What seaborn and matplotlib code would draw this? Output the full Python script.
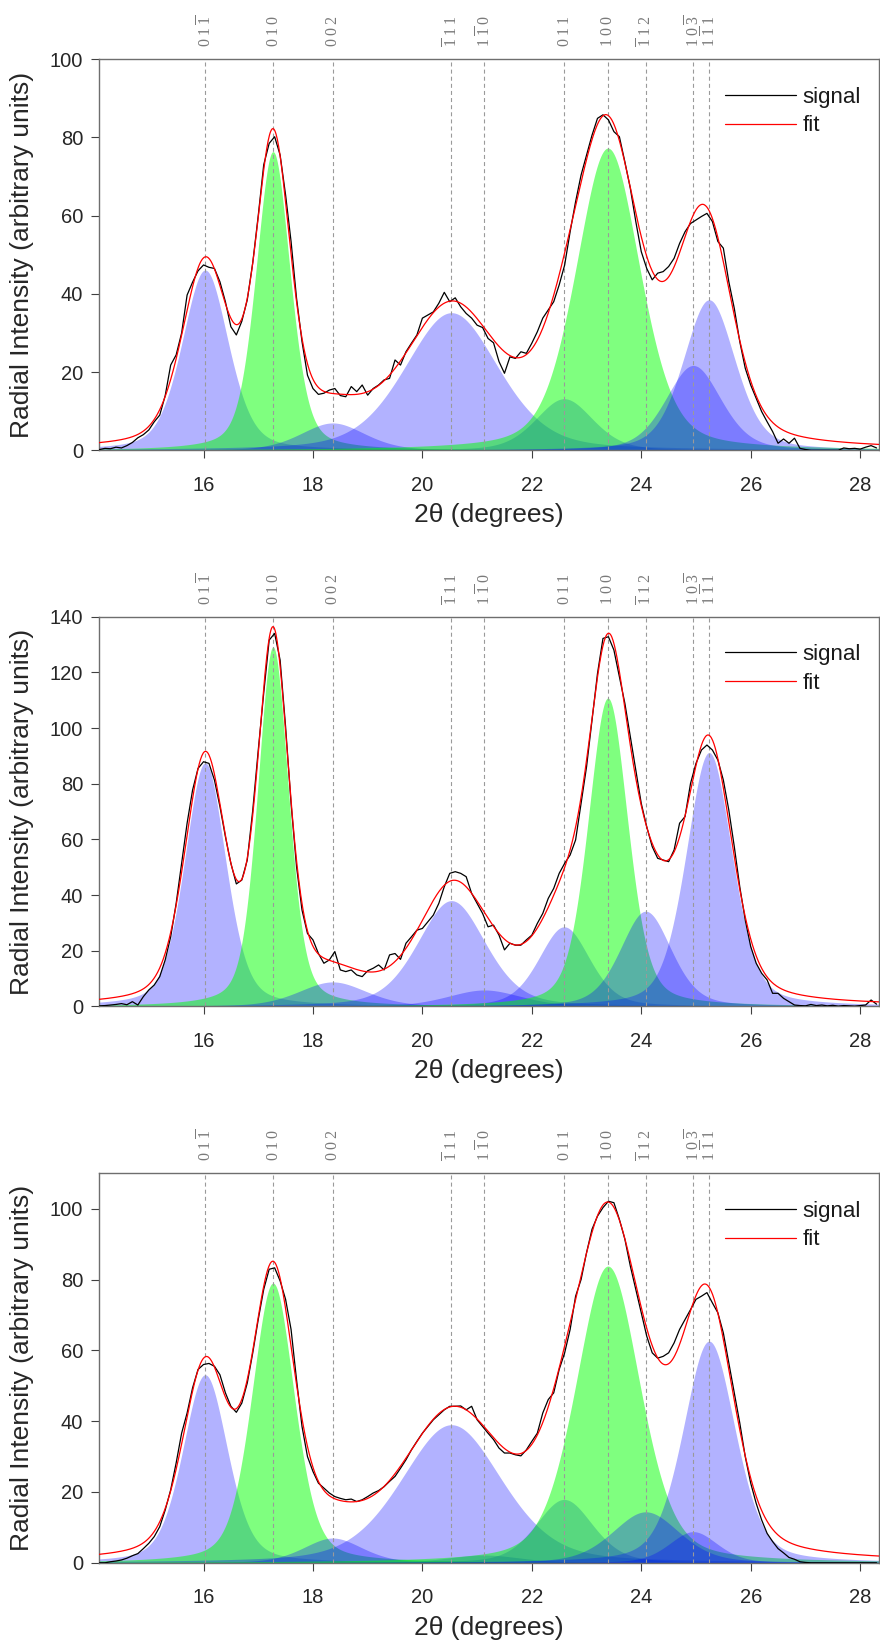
import numpy as np
import pandas as pd
import matplotlib
matplotlib.use("Agg")
import matplotlib.pyplot as plt
import seaborn as sns

sns.set_theme(style="white")
plt.rcParams["font.family"] = ["Liberation Sans", "DejaVu Sans"]
plt.rcParams["mathtext.fontset"] = "custom"
plt.rcParams["mathtext.rm"] = "Liberation Serif"
plt.rcParams["mathtext.it"] = "Liberation Serif:italic"

# ---------------- data ----------------
two_theta = np.round(np.arange(14.1, 28.3001, 0.1), 1)

peak_pos = [16.03, 17.27, 18.36, 20.53, 21.13, 22.59, 23.39, 24.08, 24.95, 25.24]
peak_labels = [r"$\mathrm{0\;1\;\overline{1}}$", r"$\mathrm{0\;1\;0}$", r"$\mathrm{0\;0\;2}$",
               r"$\mathrm{\overline{1}\;1\;1}$", r"$\mathrm{1\;\overline{1}\;0}$", r"$\mathrm{0\;1\;1}$",
               r"$\mathrm{1\;0\;0}$", r"$\mathrm{\overline{1}\;1\;2}$", r"$\mathrm{1\;0\;\overline{3}}$",
               r"$\mathrm{1\;\overline{1}\;1}$"]
peak_phase = ["b", "g", "b", "b", "b", "b", "g", "b", "b", "b"]

heights1 = [46.1, 76.4, 7.0, 35.2, 0.0, 13.2, 77.3, 0.0, 21.7, 38.5]
widths1 = [1.00, 0.74, 1.40, 2.03, 1.20, 1.24, 1.39, 1.00, 1.20, 1.12]
heights2 = [87.5, 129.2, 8.8, 38.0, 5.9, 28.6, 110.8, 34.2, 0.0, 91.2]
widths2 = [0.89, 0.67, 1.48, 1.47, 1.60, 1.10, 0.86, 1.10, 1.00, 1.00]
heights3 = [53.1, 79.0, 7.0, 39.0, 2.2, 17.9, 83.8, 14.4, 8.8, 62.6]
widths3 = [0.97, 0.92, 1.28, 2.18, 1.60, 1.23, 1.39, 1.45, 1.05, 1.13]
eta = 0.35

signal1 = [0.2, 0.5, 0.4, 0.8, 0.6, 1.2, 2.0, 3.2, 4.0, 5.2,
           7.3, 9.0, 14.0, 21.8, 24.4, 30.0, 39.7, 43.0, 45.9, 47.4,
           46.8, 46.5, 43.1, 38.0, 31.6, 29.5, 33.0, 38.5, 48.0, 60.0,
           73.0, 78.5, 80.2, 75.5, 65.3, 53.4, 38.9, 27.8, 19.2, 15.8,
           14.3, 14.6, 15.4, 15.8, 14.0, 13.7, 16.3, 15.0, 16.7, 14.1,
           15.8, 16.7, 18.0, 18.4, 23.1, 21.8, 25.2, 27.4, 29.5, 33.8,
           34.6, 35.4, 37.6, 40.4, 38.0, 39.0, 36.7, 35.0, 33.8, 32.0,
           31.4, 28.6, 27.5, 22.7, 19.7, 23.9, 23.5, 25.2, 24.8, 27.4,
           30.3, 33.8, 35.9, 38.0, 42.3, 47.4, 55.9, 63.6, 70.4, 75.5,
           80.6, 84.9, 85.8, 84.5, 81.5, 80.2, 73.8, 67.0, 58.5, 50.8,
           46.5, 43.6, 45.3, 45.7, 47.0, 49.1, 52.9, 55.9, 58.0, 58.9,
           59.8, 60.6, 58.5, 53.4, 51.7, 43.1, 36.3, 27.8, 21.0, 16.7,
           13.3, 9.9, 7.3, 4.8, 1.8, 2.9, 1.8, 3.1, 0.5, 0.2,
           0.0, 0.0, 0.0, 0.0, 0.0, 0.0, 0.6, 0.4, 0.5, 0.3,
           0.8, 1.2, 0.6]
signal2 = [0.2, 0.3, 0.5, 0.7, 1.0, 0.6, 1.7, 0.5, 3.5, 5.9,
           7.7, 10.7, 16.7, 25.0, 37.0, 51.4, 65.8, 77.7, 85.5, 87.9,
           87.3, 81.3, 71.8, 61.0, 51.4, 44.0, 45.4, 52.6, 70.5, 92.0,
           112.5, 131.6, 134.0, 124.4, 100.5, 72.9, 50.2, 34.6, 26.2, 23.9,
           19.0, 15.5, 16.7, 19.7, 13.1, 12.5, 13.1, 11.3, 10.7, 12.8,
           13.7, 14.9, 13.1, 18.5, 19.0, 16.9, 22.7, 25.0, 27.4, 28.0,
           30.4, 32.8, 37.0, 43.0, 47.8, 48.4, 47.8, 46.6, 40.6, 37.0,
           33.4, 28.6, 29.2, 25.6, 20.3, 22.7, 22.0, 22.0, 23.9, 25.6,
           29.8, 33.4, 38.8, 42.4, 47.8, 51.4, 54.4, 59.8, 72.9, 86.1,
           102.9, 119.6, 132.2, 132.8, 128.0, 118.4, 108.9, 96.9, 84.9, 72.9,
           64.5, 57.4, 53.2, 52.6, 52.0, 56.2, 65.8, 68.2, 80.1, 87.3,
           92.1, 93.9, 92.1, 88.5, 81.3, 70.5, 57.4, 43.0, 31.0, 21.5,
           15.5, 11.9, 9.5, 4.7, 4.7, 2.9, 1.7, 0.5, 0.3, 0.2,
           0.7, 0.3, 0.5, 0.2, 0.4, 0.1, 0.3, 0.2, 0.1, 0.3,
           0.5, 2.3, 0.8]
signal3 = [0.0, 0.0, 0.3, 0.5, 0.8, 1.3, 2.0, 2.6, 4.0, 5.5,
           7.4, 10.2, 14.9, 20.6, 28.2, 36.6, 42.3, 49.4, 54.6, 56.0,
           56.3, 55.5, 53.1, 48.0, 44.2, 42.5, 45.1, 50.8, 59.3, 68.7,
           77.2, 82.9, 83.3, 79.6, 74.4, 65.9, 51.7, 38.5, 30.0, 25.8,
           22.5, 21.1, 19.7, 18.7, 18.2, 17.8, 18.0, 17.3, 17.8, 18.7,
           19.7, 20.4, 21.5, 23.0, 24.4, 26.7, 29.1, 31.9, 34.3, 36.6,
           38.5, 40.4, 41.8, 43.2, 44.2, 44.2, 44.3, 43.2, 44.2, 40.4,
           38.5, 36.6, 34.8, 32.4, 31.0, 31.0, 30.5, 30.2, 31.9, 34.3,
           36.6, 42.3, 46.1, 48.0, 54.6, 59.3, 65.9, 75.3, 80.0, 87.6,
           94.2, 97.9, 100.3, 102.1, 101.7, 97.0, 91.4, 83.8, 77.2, 70.6,
           64.0, 59.3, 57.8, 58.3, 59.3, 62.1, 65.9, 68.7, 71.5, 74.4,
           75.3, 76.3, 73.4, 70.6, 64.9, 56.4, 48.0, 39.5, 30.0, 22.5,
           16.8, 12.1, 8.3, 6.0, 4.0, 2.8, 1.5, 1.0, 0.3, 0.1,
           0.0, 0.0, 0.0, 0.0, 0.0, 0.0, 0.0, 0.0, 0.0, 0.0,
           0.0, 0.0, 0.0]

y_limits = [100, 140, 110]
y_ticks = [[0, 20, 40, 60, 80, 100], [0, 20, 40, 60, 80, 100, 120, 140], [0, 20, 40, 60, 80, 100]]
x_ticks = [16, 18, 20, 22, 24, 26, 28]

panels = [(heights1, widths1, signal1), (heights2, widths2, signal2), (heights3, widths3, signal3)]

# ---------------- drawing ----------------
W, H = 880, 1645
fig = plt.figure(figsize=(W / 100, H / 100), dpi=100)

xgrid = np.linspace(14.09, 28.35, 1200)

def pvoigt(x, c, h, w):
    d = (x - c) / w
    return h * (eta / (1.0 + 4 * d * d) + (1 - eta) * np.exp(-4 * np.log(2) * d * d))

axes_px = [(99, 59.3, 450.3), (99, 616.7, 1006.4), (99, 1173.3, 1562.8)]
fill_col = {"b": ("#0000ff", 0.30), "g": ("#00ff00", 0.50)}

for i, ((hts, wds, sig), (lpx, top, bot)) in enumerate(zip(panels, axes_px)):
    ax = fig.add_axes([lpx / W, 1 - bot / H, 780.3 / W, (bot - top) / H])
    total = np.zeros_like(xgrid)
    for c, h, w, ph in zip(peak_pos, hts, wds, peak_phase):
        comp = pvoigt(xgrid, c, h, w)
        total += comp
        if h > 0:
            col, a = fill_col[ph]
            ax.fill_between(xgrid, 0, comp, color=col, alpha=a, linewidth=0, zorder=1)
    for c, lab in zip(peak_pos, peak_labels):
        ax.axvline(c, color="#9a9a9a", lw=0.8, ls=(0, (3.6, 2.8)), zorder=2)
        ax.annotate(lab, xy=(c, 1.0), xycoords=("data", "axes fraction"),
                    xytext=(0, 8.5), textcoords="offset points", rotation=90,
                    ha="center", va="bottom", color="#7a7a7a", fontsize=11.5)
    df_sig = pd.DataFrame({"x": two_theta, "y": sig})
    df_fit = pd.DataFrame({"x": xgrid, "y": total})
    sns.lineplot(data=df_sig, x="x", y="y", ax=ax, color="black", lw=0.9, label="signal",
                 estimator=None, sort=False, zorder=3)
    sns.lineplot(data=df_fit, x="x", y="y", ax=ax, color="red", lw=0.9, label="fit",
                 estimator=None, sort=False, zorder=4)
    ax.set_xlim(14.09, 28.35)
    ax.set_ylim(0, y_limits[i])
    ax.set_xticks(x_ticks)
    ax.set_yticks(y_ticks[i])
    ax.set_xlabel("")
    ax.set_ylabel("")
    ax.tick_params(axis="both", direction="out", length=5.5, width=0.8, color="#404040",
                   labelcolor="#262626", labelsize=14.5, bottom=True, left=True, top=False, right=False)
    ax.tick_params(axis="x", pad=13)
    ax.tick_params(axis="y", pad=6)
    for s in ax.spines.values():
        s.set_color("#6e6e6e")
        s.set_linewidth(1.0)
        s.set_visible(True)
    ax.grid(False)
    leg = ax.legend(loc="upper left", bbox_to_anchor=(0.802, 0.93), frameon=False, fontsize=16,
                    handlelength=3.2, handletextpad=0.3, labelspacing=0.35, borderpad=0, borderaxespad=0)
    for t in leg.get_texts():
        t.set_color("#1a1a1a")
    fig.text(22 / W, 1 - (top + bot) / 2 / H, "Radial Intensity (arbitrary units)", rotation=90,
             ha="center", va="center", fontsize=19, color="#262626")
    fig.text((lpx + 780.3 / 2) / W, 1 - (bot + 65) / H, "2\u03b8 (degrees)", ha="center", va="center",
             fontsize=19, color="#262626")

fig.savefig("out.png", dpi=100)
